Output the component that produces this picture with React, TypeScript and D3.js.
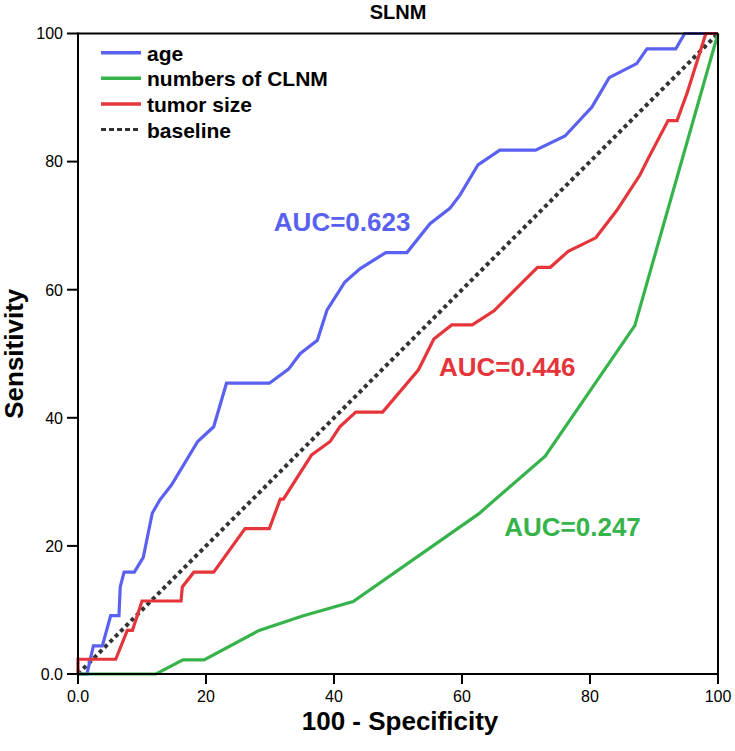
import React from "react";
import * as d3 from "d3";

type Pt = [number, number];

const ageCurve: Pt[] = [
  [0, 0], [1.4, 0], [2.4, 4.4], [3.8, 4.4], [5.1, 9.1], [6.4, 9.1], [6.6, 13.6], [7.2, 15.9],
  [8.8, 15.9], [10.2, 18.2], [11.6, 25.1], [12.8, 27.2], [14.6, 29.5], [18.7, 36.3], [21.2, 38.6],
  [23.2, 45.4], [29.9, 45.4], [32.9, 47.6], [34.7, 50], [37.4, 52.1], [38.9, 56.8], [41.7, 61.2],
  [44.1, 63.3], [48.1, 65.8], [51.4, 65.8], [55, 70.3], [58.1, 72.7], [59.7, 74.8], [62.5, 79.5],
  [65.9, 81.8], [71.5, 81.8], [76.1, 84], [80.3, 88.5], [83, 93.1], [87.3, 95.3], [88.9, 97.6],
  [93.4, 97.6], [94.8, 100], [100, 100],
];

const clnmCurve: Pt[] = [
  [0, 0], [12.2, 0], [16.4, 2.2], [19.7, 2.2], [28.3, 6.8], [35.2, 9.1], [43, 11.3],
  [62.6, 25], [73, 34], [87, 54.4], [100, 100],
];

const sizeCurve: Pt[] = [
  [0, 0], [0, 2.3], [5.9, 2.3], [7.7, 6.8], [8.5, 6.8], [10, 11.4], [16.1, 11.4], [16.3, 13.6],
  [18.1, 15.9], [21.2, 15.9], [26.1, 22.7], [29.9, 22.7], [31.6, 27.3], [32.1, 27.3], [36.5, 34.2],
  [39.4, 36.3], [40.9, 38.6], [43.4, 40.9], [47.6, 40.9], [53.2, 47.5], [55.6, 52.3], [58.4, 54.5],
  [61.6, 54.5], [65, 56.7], [71.8, 63.5], [73.8, 63.5], [76.6, 66], [80.9, 68.1], [84.2, 72.4],
  [87.8, 77.9], [89.1, 80.5], [92.2, 86.4], [93.6, 86.4], [95.2, 90.8], [98.1, 100], [100, 100],
];

const baselineCurve: Pt[] = [[0, 0], [100, 100]];

const seriesNames = ["age", "numbers of CLNM", "tumor size", "baseline"];
const seriesColors = ["#5A61F0", "#36B34A", "#E5343A", "#333333"];
const aucLabels = ["AUC=0.623", "AUC=0.247", "AUC=0.446"];
const aucAnchors: Pt[] = [[30.6, 69.1], [66.6, 21.6], [56.4, 46.5]];

const xTicks = [0, 20, 40, 60, 80, 100];
const yTicks = [0, 20, 40, 60, 80, 100];
const fmt = (v: number) => (v === 0 ? "0.0" : String(v));

const W = 735;
const H = 751;
const x0 = 78, x1 = 718, y0 = 674, y1 = 33.5;

export default function App() {
  const x = d3.scaleLinear().domain([0, 100]).range([x0, x1]);
  const y = d3.scaleLinear().domain([0, 100]).range([y0, y1]);
  const line = d3.line<Pt>().x((d) => x(d[0])).y((d) => y(d[1]));
  const curves = [ageCurve, clnmCurve, sizeCurve];
  const font = "'Liberation Sans', Arial, sans-serif";

  return (
    <svg width={W} height={H} style={{ position: "absolute", left: 0, top: 0, background: "#fff" }} fontFamily={font}>
      <rect x={0} y={0} width={W} height={H} fill="#fff" />
      {/* baseline */}
      <path d={line(baselineCurve) || ""} fill="none" stroke={seriesColors[3]} strokeWidth={4} strokeDasharray="4,3.5" />
      {curves.map((c, i) => (
        <path key={i} d={line(c) || ""} fill="none" stroke={seriesColors[i]} strokeWidth={3.2} strokeLinejoin="miter" />
      ))}
      {/* frame */}
      <line x1={x0} y1={y1} x2={x1} y2={y1} stroke="#000" strokeWidth={2} />
      <line x1={x1} y1={y1} x2={x1} y2={y0} stroke="#000" strokeWidth={2} />
      <line x1={x0} y1={y1 - 1} x2={x0} y2={y0 + 1} stroke="#000" strokeWidth={2} />
      <line x1={x0 - 1} y1={y0} x2={x1 + 1} y2={y0} stroke="#000" strokeWidth={2} />
      {/* x ticks */}
      {xTicks.map((t) => (
        <g key={"x" + t}>
          <line x1={x(t)} x2={x(t)} y1={y0} y2={y0 + 10} stroke="#000" strokeWidth={2} />
          <text x={x(t)} y={702} textAnchor="middle" fontSize={16}>{fmt(t)}</text>
        </g>
      ))}
      {/* y ticks */}
      {yTicks.map((t) => (
        <g key={"y" + t}>
          <line x1={x0 - 11} x2={x0} y1={y(t)} y2={y(t)} stroke="#000" strokeWidth={2} />
          <text x={63} y={y(t) + 5.8} textAnchor="end" fontSize={16}>{fmt(t)}</text>
        </g>
      ))}
      {/* titles */}
      <text x={398} y={19} textAnchor="middle" fontSize={20} fontWeight="bold">SLNM</text>
      <text x={400} y={730} textAnchor="middle" fontSize={26} fontWeight="bold">100 - Specificity</text>
      <text transform={`translate(23,${(y0 + y1) / 2}) rotate(-90)`} textAnchor="middle" fontSize={26} fontWeight="bold">Sensitivity</text>
      {/* legend */}
      {seriesNames.map((n, i) => {
        const ly = 52.7 + i * 25.6;
        return (
          <g key={n}>
            <line x1={101} x2={141} y1={ly} y2={ly} stroke={seriesColors[i]} strokeWidth={i === 3 ? 3 : 3.5}
              strokeDasharray={i === 3 ? "5,3" : undefined} />
            <text x={147} y={ly + 8} fontSize={21} fontWeight="bold">{n}</text>
          </g>
        );
      })}
      {/* AUC labels */}
      {aucLabels.map((l, i) => (
        <text key={l} x={x(aucAnchors[i][0])} y={y(aucAnchors[i][1])} fontSize={26} fontWeight="bold" fill={seriesColors[i]}>{l}</text>
      ))}
    </svg>
  );
}
